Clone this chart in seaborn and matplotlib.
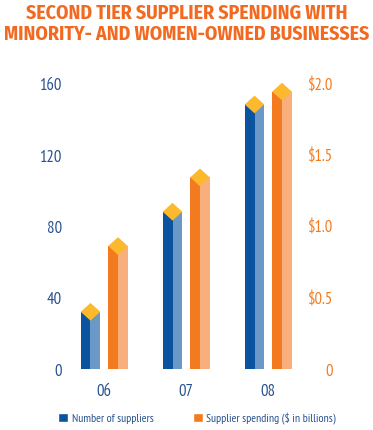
"""Second tier supplier spending chart (3D-style bars with diamond caps)."""

import matplotlib

matplotlib.use("Agg")
import matplotlib.pyplot as plt
from matplotlib.patches import Patch, Polygon
import seaborn as sns

YEARS = ["06", "07", "08"]
SUPPLIERS = [32, 88, 148]
SPENDING = [0.86, 1.34, 1.94]  # $ in billions

LEFT_TICKS = [0, 40, 80, 120, 160]
RIGHT_TICKS = [0, 0.5, 1.0, 1.5, 2.0]
RIGHT_LABELS = ["0", "$0.5", "$1.0", "$1.5", "$2.0"]

TITLE = "SECOND TIER SUPPLIER SPENDING WITH\nMINORITY- AND WOMEN-OWNED BUSINESSES"
LEGEND_LABELS = ["Number of suppliers", "Supplier spending ($ in billions)"]

BLUE_DARK = "#0B539F"
BLUE_LIGHT = "#6A98C7"
ORANGE_DARK = "#F47A20"
ORANGE_LIGHT = "#F9AF7B"
GOLD = "#FDB92E"
TITLE_COLOR = "#F26A21"
NAVY_TEXT = "#27508F"

sns.set_style("white")
plt.rcParams["font.family"] = ["PT Sans Narrow", "DejaVu Sans"]

W, H = 373, 431
fig = plt.figure(figsize=(W / 100, H / 100), dpi=100)
ax1 = fig.add_axes([68 / W, 61 / H, (300 - 68) / W, 286 / H])
ax2 = ax1.twinx()

offset = 13.75 / 82
width = 19.5 / 82


def draw_column(ax, x, value, dark, light, ytop):
    half = width / 2
    dy = 0.031 * ytop
    ax.bar(x - half / 2, value, width=half, color=dark, linewidth=0, clip_on=False)
    ax.bar(x + half / 2, value, width=half, color=light, linewidth=0, clip_on=False)
    diamond = Polygon(
        [(x - half, value), (x, value + dy), (x + half, value), (x, value - dy)],
        closed=True, facecolor=GOLD, edgecolor="none", clip_on=False, zorder=3,
    )
    ax.add_patch(diamond)


for i, (s, sp) in enumerate(zip(SUPPLIERS, SPENDING)):
    draw_column(ax1, i - offset, s, BLUE_DARK, BLUE_LIGHT, 160)
    draw_column(ax2, i + offset, sp, ORANGE_DARK, ORANGE_LIGHT, 2.0)

ax1.set_xlim(-0.442, 2.387)
ax1.set_ylim(0, 160)
ax2.set_ylim(0, 2.0)

ax1.set_xticks(range(len(YEARS)))
ax1.set_xticklabels(YEARS)
ax1.set_yticks(LEFT_TICKS)
ax1.set_yticklabels([str(t) for t in LEFT_TICKS])
ax2.set_yticks(RIGHT_TICKS)
ax2.set_yticklabels(RIGHT_LABELS, ha="right")

ax1.tick_params(axis="x", length=0, pad=10, labelsize=12, labelcolor=NAVY_TEXT)
ax1.tick_params(axis="y", length=0, pad=4.5, labelsize=12, labelcolor=NAVY_TEXT)
ax2.tick_params(axis="y", length=0, pad=24, labelsize=12, labelcolor=ORANGE_DARK)

for ax in (ax1, ax2):
    for spine in ax.spines.values():
        spine.set_visible(False)
    ax.grid(False)
    ax.patch.set_alpha(0)

fig.text(0.5, 1 - 23.5 / H, TITLE, ha="center", va="center", fontsize=14.2,
         fontweight="bold", color=TITLE_COLOR, linespacing=1.1,
         family=["Fira Sans Condensed", "DejaVu Sans"])

handles = [Patch(facecolor=BLUE_DARK), Patch(facecolor=ORANGE_DARK)]
fig.legend(handles, LEGEND_LABELS, loc="center", bbox_to_anchor=(197 / W, 1 - 419 / H),
           ncol=2, frameon=False, fontsize=8.5, handlelength=0.85, handleheight=0.85,
           handletextpad=0.3, columnspacing=3.3, labelcolor=NAVY_TEXT)

fig.savefig("out.png", dpi=100)
plt.close(fig)
